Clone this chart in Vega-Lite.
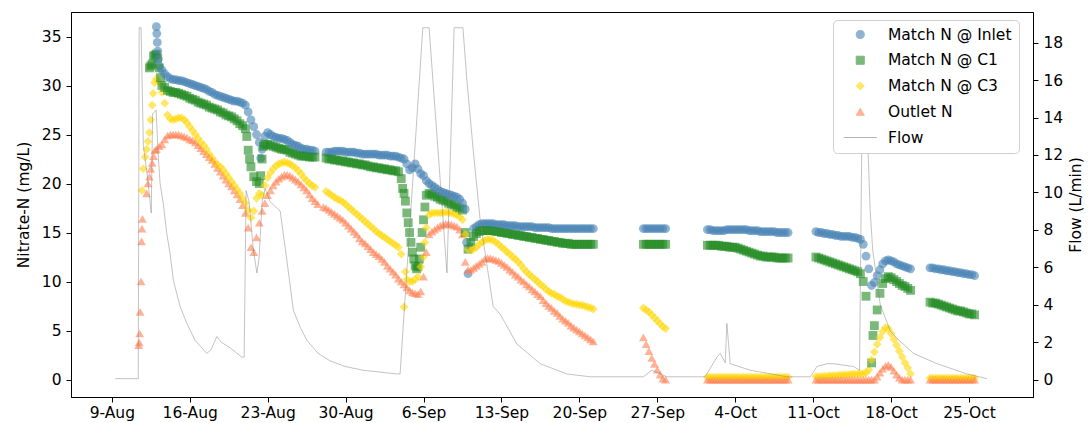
{
"$schema":"https://vega.github.io/schema/vega-lite/v6.json",
"width":962,"height":385,
"autosize":{"type":"none"},
"padding":{"left":71,"top":12,"right":56,"bottom":26},
"background":"white",
"config":{"font":"DejaVu Sans","view":{"stroke":"black","strokeWidth":1},
"axis":{"labelFontSize":15.5,"titleFontSize":15.5,"labelColor":"#000","titleColor":"#000","tickColor":"#000","domainColor":"#000","grid":false,"titleFontWeight":"normal","tickSize":5,"labelPadding":5,"labelFont":"DejaVu Sans","titleFont":"DejaVu Sans"},
"legend":{"title":null,"orient":"none","legendX":762,"legendY":8,"padding":7,"fillColor":"white","strokeColor":"#d0d0d0","cornerRadius":4,"symbolSize":65,"symbolStrokeWidth":1,"symbolOffset":12.5,"clipHeight":15,"rowPadding":9.75,"labelOffset":20,"labelFontSize":15.5,"labelFont":"DejaVu Sans","labelColor":"#000","labelLimit":300}},
"datasets":{
"n":[
{"t":"2019-08-11 10:00","o":3.5},{"t":"2019-08-11 11:00","o":3.8},{"t":"2019-08-11 12:00","o":4.7},{"t":"2019-08-11 13:00","o":6.9},{"t":"2019-08-11 15:00","o":10.0},{"t":"2019-08-11 16:00","o":14.1},{"t":"2019-08-11 17:00","o":15.4,"b":19.3},{"t":"2019-08-11 18:00","o":16.4},{"t":"2019-08-11 20:00","b":21.5},
{"t":"2019-08-12 00:00","b":22.7},{"t":"2019-08-12 03:00","o":19.0,"b":23.5},{"t":"2019-08-12 06:00","o":20.0,"b":24.3},{"t":"2019-08-12 09:00","o":20.7,"b":25.2,"a":31.8},{"t":"2019-08-12 12:00","o":21.5,"b":26.5,"a":32.0},{"t":"2019-08-12 15:00","o":22.1,"b":28.0,"a":32.2},{"t":"2019-08-12 17:00","b":29.2},{"t":"2019-08-12 18:00","o":22.8,"a":33.0},{"t":"2019-08-12 20:00","b":30.3},{"t":"2019-08-12 21:00","o":23.4,"a":33.1},
{"t":"2019-08-13 00:00","i":36.0,"a":33.2,"b":30.7,"o":23.5},{"t":"2019-08-13 01:00","i":35.3},{"t":"2019-08-13 02:00","i":34.4},{"t":"2019-08-13 03:00","i":33.5,"a":32.8},{"t":"2019-08-13 04:00","i":32.7},{"t":"2019-08-13 06:00","i":32.0,"a":31.8,"b":30.3,"o":23.8},{"t":"2019-08-13 09:00","a":30.8},{"t":"2019-08-13 12:00","i":31.6,"a":30.0,"b":29.3,"o":24.0},{"t":"2019-08-13 18:00","i":31.2,"a":29.8,"b":28.2,"o":24.5},
{"t":"2019-08-14 00:00","i":30.9,"a":29.5,"b":27.0,"o":24.9},{"t":"2019-08-14 06:00","i":30.7,"a":29.4,"b":26.6,"o":25.0},{"t":"2019-08-14 12:00","i":30.6,"a":29.3,"b":26.5,"o":25.0},{"t":"2019-08-14 18:00","i":30.6,"a":29.3,"b":26.6,"o":25.0},
{"t":"2019-08-15 00:00","i":30.5,"a":29.2,"b":26.7,"o":25.0},{"t":"2019-08-15 06:00","i":30.5,"a":29.1,"b":26.7,"o":24.9},{"t":"2019-08-15 12:00","i":30.4,"a":29.0,"b":26.5,"o":24.8},{"t":"2019-08-15 18:00","i":30.3,"a":28.9,"b":26.2,"o":24.7},
{"t":"2019-08-16 00:00","i":30.2,"a":28.7,"b":25.8,"o":24.5},{"t":"2019-08-16 06:00","i":30.1,"a":28.6,"b":25.4,"o":24.4},{"t":"2019-08-16 12:00","i":30.0,"a":28.5,"b":25.0,"o":24.2},{"t":"2019-08-16 18:00","i":29.9,"a":28.3,"b":24.6,"o":23.9},
{"t":"2019-08-17 00:00","i":29.8,"a":28.2,"b":24.2,"o":23.6},{"t":"2019-08-17 06:00","i":29.7,"a":28.1,"b":23.9,"o":23.3},{"t":"2019-08-17 12:00","i":29.6,"a":28.0,"b":23.5,"o":23.0},{"t":"2019-08-17 18:00","i":29.4,"a":27.8,"b":23.0,"o":22.7},
{"t":"2019-08-18 00:00","i":29.3,"a":27.7,"b":22.6,"o":22.4},{"t":"2019-08-18 06:00","i":29.1,"a":27.6,"b":22.2,"o":22.0},{"t":"2019-08-18 12:00","i":29.0,"a":27.5,"b":21.9,"o":21.6},{"t":"2019-08-18 18:00","i":28.9,"a":27.3,"b":21.7,"o":21.2},
{"t":"2019-08-19 00:00","i":28.8,"a":27.2,"b":21.4,"o":20.8},{"t":"2019-08-19 06:00","i":28.7,"a":27.0,"b":21.0,"o":20.4},{"t":"2019-08-19 12:00","i":28.6,"a":26.9,"b":20.6,"o":20.0},{"t":"2019-08-19 18:00","i":28.5,"a":26.8,"b":20.2,"o":19.7},
{"t":"2019-08-20 00:00","i":28.4,"a":26.6,"b":19.8,"o":19.3},{"t":"2019-08-20 06:00","i":28.4,"a":26.4,"b":19.4,"o":18.9},{"t":"2019-08-20 12:00","i":28.3,"a":26.1,"b":19.0,"o":18.4},{"t":"2019-08-20 18:00","i":28.2,"a":25.9,"b":18.5,"o":17.8},
{"t":"2019-08-21 00:00","i":28.0,"a":25.6,"b":18.0,"o":17.0},{"t":"2019-08-21 03:00","a":24.8},{"t":"2019-08-21 06:00","i":27.3,"a":23.4,"b":17.3,"o":15.5},{"t":"2019-08-21 09:00","a":22.5},{"t":"2019-08-21 12:00","i":26.5,"a":21.7,"b":16.5,"o":13.5},{"t":"2019-08-21 18:00","i":25.8,"a":20.7,"b":17.2,"o":13.0},
{"t":"2019-08-22 00:00","i":25.0,"a":20.2,"b":18.5,"o":14.5},{"t":"2019-08-22 06:00","i":24.2,"a":20.0,"b":19.0,"o":16.0},{"t":"2019-08-22 09:00","i":22.6,"a":20.8},{"t":"2019-08-22 12:00","i":23.5,"a":22.5,"b":18.8,"o":17.2},{"t":"2019-08-22 15:00","a":23.8},{"t":"2019-08-22 18:00","i":24.8,"a":24.0,"b":19.8,"o":18.0},
{"t":"2019-08-23 00:00","i":25.2,"a":24.0,"b":20.6,"o":18.8},{"t":"2019-08-23 06:00","i":25.0,"a":23.9,"b":21.1,"o":19.3},{"t":"2019-08-23 12:00","i":24.8,"a":23.8,"b":21.5,"o":19.8},{"t":"2019-08-23 18:00","i":24.7,"a":23.7,"b":21.8,"o":20.2},
{"t":"2019-08-24 00:00","i":24.6,"a":23.6,"b":22.0,"o":20.5},{"t":"2019-08-24 06:00","i":24.6,"a":23.5,"b":22.1,"o":20.7},{"t":"2019-08-24 12:00","i":24.5,"a":23.5,"b":22.2,"o":20.9},{"t":"2019-08-24 18:00","i":24.4,"a":23.4,"b":22.1,"o":20.9},
{"t":"2019-08-25 00:00","i":24.2,"a":23.2,"b":22.0,"o":20.8},{"t":"2019-08-25 06:00","i":24.0,"a":23.1,"b":21.8,"o":20.6},{"t":"2019-08-25 12:00","i":23.9,"a":23.0,"b":21.6,"o":20.4},{"t":"2019-08-25 18:00","i":23.8,"a":22.9,"b":21.3,"o":20.2},
{"t":"2019-08-26 00:00","i":23.6,"a":22.8,"b":21.0,"o":19.9},{"t":"2019-08-26 06:00","i":23.5,"a":22.8,"b":20.6,"o":19.6},{"t":"2019-08-26 12:00","i":23.5,"a":22.8,"b":20.3,"o":19.3},{"t":"2019-08-26 18:00","i":23.4,"a":22.7,"b":20.0,"o":18.9},
{"t":"2019-08-27 00:00","i":23.4,"a":22.7,"b":19.8,"o":18.5},{"t":"2019-08-27 06:00","i":23.3,"a":22.7,"b":19.6,"o":18.2},{"t":"2019-08-27 12:00","o":17.9},
{"t":"2019-08-28 00:00","o":17.6},{"t":"2019-08-28 06:00","i":23.2,"a":22.6,"b":19.2,"o":17.5},{"t":"2019-08-28 12:00","i":23.2,"a":22.5,"b":19.0,"o":17.3},{"t":"2019-08-28 18:00","i":23.2,"a":22.5,"b":18.8,"o":17.1},
{"t":"2019-08-29 00:00","i":23.3,"a":22.4,"b":18.6,"o":16.9},{"t":"2019-08-29 06:00","i":23.3,"a":22.4,"b":18.4,"o":16.7},{"t":"2019-08-29 12:00","i":23.3,"a":22.3,"b":18.3,"o":16.5},{"t":"2019-08-29 18:00","i":23.3,"a":22.3,"b":18.1,"o":16.3},
{"t":"2019-08-30 00:00","i":23.2,"a":22.2,"b":17.9,"o":16.0},{"t":"2019-08-30 06:00","i":23.2,"a":22.2,"b":17.6,"o":15.7},{"t":"2019-08-30 12:00","i":23.2,"a":22.1,"b":17.4,"o":15.4},{"t":"2019-08-30 18:00","i":23.2,"a":22.1,"b":17.1,"o":15.1},
{"t":"2019-08-31 00:00","i":23.1,"a":22.0,"b":16.9,"o":14.8},{"t":"2019-08-31 06:00","i":23.1,"a":22.0,"b":16.6,"o":14.4},{"t":"2019-08-31 12:00","i":23.0,"a":21.9,"b":16.4,"o":14.1},{"t":"2019-08-31 18:00","i":23.0,"a":21.9,"b":16.1,"o":13.9},
{"t":"2019-09-01 00:00","i":23.0,"a":21.8,"b":15.9,"o":13.6},{"t":"2019-09-01 06:00","i":23.0,"a":21.7,"b":15.6,"o":13.3},{"t":"2019-09-01 12:00","i":23.0,"a":21.7,"b":15.4,"o":13.0},{"t":"2019-09-01 18:00","i":23.0,"a":21.6,"b":15.1,"o":12.8},
{"t":"2019-09-02 00:00","i":22.9,"a":21.6,"b":14.9,"o":12.6},{"t":"2019-09-02 06:00","i":22.9,"a":21.5,"b":14.7,"o":12.3},{"t":"2019-09-02 12:00","i":22.9,"a":21.5,"b":14.5,"o":12.0},{"t":"2019-09-02 18:00","i":22.9,"a":21.4,"b":14.3,"o":11.6},
{"t":"2019-09-03 00:00","i":22.8,"a":21.4,"b":14.1,"o":11.3},{"t":"2019-09-03 06:00","i":22.8,"a":21.3,"b":13.9,"o":11.0},{"t":"2019-09-03 12:00","i":22.8,"a":21.3,"b":13.7,"o":10.7},{"t":"2019-09-03 18:00","i":22.7,"a":21.2,"b":13.5,"o":10.3},
{"t":"2019-09-04 00:00","i":22.6,"a":20.5,"b":12.8,"o":10.0},{"t":"2019-09-04 03:00","a":19.5},{"t":"2019-09-04 06:00","i":22.5,"a":19.0,"b":7.4,"o":9.7},{"t":"2019-09-04 09:00","a":18.2,"b":11.0},{"t":"2019-09-04 12:00","i":22.0,"a":17.0,"b":10.2,"o":9.4},{"t":"2019-09-04 15:00","a":16.0},{"t":"2019-09-04 18:00","i":21.4,"a":15.0,"b":10.0,"o":9.1},{"t":"2019-09-04 21:00","a":14.0},
{"t":"2019-09-05 00:00","i":21.6,"a":13.0,"b":10.0,"o":8.9},{"t":"2019-09-05 03:00","a":12.3},{"t":"2019-09-05 06:00","i":22.0,"a":11.6,"b":10.2,"o":8.8},{"t":"2019-09-05 09:00","a":11.3},{"t":"2019-09-05 12:00","i":21.5,"a":11.5,"b":10.5,"o":8.7},{"t":"2019-09-05 15:00","a":12.3},{"t":"2019-09-05 18:00","i":21.0,"a":13.5,"b":11.5,"o":9.0},{"t":"2019-09-05 21:00","a":15.0},
{"t":"2019-09-06 00:00","i":20.8,"a":16.3,"b":12.5,"o":10.5},{"t":"2019-09-06 03:00","a":17.6,"b":14.0},{"t":"2019-09-06 06:00","i":20.3,"a":18.8,"b":15.5,"o":13.0},{"t":"2019-09-06 12:00","i":20.0,"a":19.0,"b":16.8,"o":14.8},{"t":"2019-09-06 18:00","i":19.8,"a":18.9,"b":17.0,"o":15.1},
{"t":"2019-09-07 00:00","i":19.6,"a":18.7,"b":17.0,"o":15.3},{"t":"2019-09-07 06:00","i":19.4,"a":18.6,"b":17.0,"o":15.5},{"t":"2019-09-07 12:00","i":19.2,"a":18.4,"b":17.0,"o":15.7},{"t":"2019-09-07 18:00","i":19.1,"a":18.3,"b":17.0,"o":15.8},
{"t":"2019-09-08 00:00","i":19.0,"a":18.2,"b":17.1,"o":15.9},{"t":"2019-09-08 06:00","i":18.9,"a":18.0,"b":17.0,"o":15.9},{"t":"2019-09-08 12:00","i":18.8,"a":17.9,"b":17.0,"o":15.8},{"t":"2019-09-08 18:00","i":18.7,"a":17.8,"b":16.9,"o":15.7},
{"t":"2019-09-09 00:00","i":18.6,"a":17.6,"b":16.8,"o":15.6},{"t":"2019-09-09 06:00","i":18.4,"a":17.5,"b":16.6,"o":15.3},{"t":"2019-09-09 12:00","i":18.0,"a":17.3,"b":16.3,"o":14.8},{"t":"2019-09-09 18:00","i":17.4,"a":15.0,"b":14.8,"o":12.0},{"t":"2019-09-09 21:00","i":14.0},
{"t":"2019-09-10 00:00","i":10.8,"a":13.3,"b":13.3,"o":11.2},{"t":"2019-09-10 06:00","i":13.5,"a":14.0,"b":13.2,"o":11.2},{"t":"2019-09-10 12:00","i":15.4,"a":14.6,"b":13.3,"o":11.4},{"t":"2019-09-10 18:00","i":15.6,"a":14.9,"b":13.5,"o":11.6},
{"t":"2019-09-11 00:00","i":15.8,"a":15.1,"b":13.8,"o":11.8},{"t":"2019-09-11 06:00","i":15.9,"a":15.2,"b":14.0,"o":12.0},{"t":"2019-09-11 12:00","i":15.9,"a":15.2,"b":14.2,"o":12.3},{"t":"2019-09-11 18:00","i":15.9,"a":15.2,"b":14.3,"o":12.4},
{"t":"2019-09-12 00:00","i":15.9,"a":15.2,"b":14.3,"o":12.4},{"t":"2019-09-12 06:00","i":15.9,"a":15.2,"b":14.2,"o":12.3},{"t":"2019-09-12 12:00","i":15.8,"a":15.1,"b":14.0,"o":12.2},{"t":"2019-09-12 18:00","i":15.8,"a":15.1,"b":13.8,"o":12.1},
{"t":"2019-09-13 00:00","i":15.8,"a":15.0,"b":13.5,"o":11.9},{"t":"2019-09-13 06:00","i":15.8,"a":15.0,"b":13.3,"o":11.7},{"t":"2019-09-13 12:00","i":15.7,"a":14.9,"b":13.0,"o":11.5},{"t":"2019-09-13 18:00","i":15.7,"a":14.9,"b":12.8,"o":11.2},
{"t":"2019-09-14 00:00","i":15.7,"a":14.8,"b":12.5,"o":11.0},{"t":"2019-09-14 06:00","i":15.7,"a":14.8,"b":12.3,"o":10.7},{"t":"2019-09-14 12:00","i":15.6,"a":14.7,"b":12.0,"o":10.5},{"t":"2019-09-14 18:00","i":15.6,"a":14.7,"b":11.7,"o":10.2},
{"t":"2019-09-15 00:00","i":15.6,"a":14.6,"b":11.3,"o":10.0},{"t":"2019-09-15 06:00","i":15.6,"a":14.6,"b":11.0,"o":9.7},{"t":"2019-09-15 12:00","i":15.6,"a":14.5,"b":10.7,"o":9.5},{"t":"2019-09-15 18:00","i":15.6,"a":14.5,"b":10.5,"o":9.2},
{"t":"2019-09-16 00:00","i":15.5,"a":14.4,"b":10.2,"o":9.0},{"t":"2019-09-16 06:00","i":15.5,"a":14.4,"b":10.0,"o":8.7},{"t":"2019-09-16 12:00","i":15.5,"a":14.3,"b":9.7,"o":8.5},{"t":"2019-09-16 18:00","i":15.5,"a":14.3,"b":9.5,"o":8.1},
{"t":"2019-09-17 00:00","i":15.5,"a":14.2,"b":9.2,"o":7.8},{"t":"2019-09-17 06:00","i":15.5,"a":14.2,"b":9.0,"o":7.5},{"t":"2019-09-17 12:00","i":15.4,"a":14.1,"b":8.8,"o":7.3},{"t":"2019-09-17 18:00","i":15.4,"a":14.1,"b":8.7,"o":7.0},
{"t":"2019-09-18 00:00","i":15.4,"a":14.0,"b":8.5,"o":6.8},{"t":"2019-09-18 06:00","i":15.4,"a":14.0,"b":8.4,"o":6.5},{"t":"2019-09-18 12:00","i":15.4,"a":13.9,"b":8.2,"o":6.2},{"t":"2019-09-18 18:00","i":15.4,"a":13.9,"b":8.0,"o":6.0},
{"t":"2019-09-19 00:00","i":15.4,"a":13.9,"b":7.9,"o":5.8},{"t":"2019-09-19 06:00","i":15.4,"a":13.8,"b":7.8,"o":5.5},{"t":"2019-09-19 12:00","i":15.4,"a":13.8,"b":7.7,"o":5.3},{"t":"2019-09-19 18:00","i":15.4,"a":13.8,"b":7.7,"o":5.1},
{"t":"2019-09-20 00:00","i":15.4,"a":13.8,"b":7.6,"o":4.9},{"t":"2019-09-20 06:00","i":15.4,"a":13.8,"b":7.6,"o":4.7},{"t":"2019-09-20 12:00","i":15.4,"a":13.8,"b":7.5,"o":4.5},{"t":"2019-09-20 18:00","i":15.4,"a":13.8,"b":7.4,"o":4.3},
{"t":"2019-09-21 00:00","i":15.4,"a":13.8,"b":7.3,"o":4.1},{"t":"2019-09-21 06:00","i":15.4,"a":13.8,"b":7.2,"o":3.9},
{"t":"2019-09-25 18:00","i":15.4,"a":13.8,"b":7.3,"o":4.3},{"t":"2019-09-26 00:00","i":15.4,"a":13.8,"b":7.1,"o":3.6},{"t":"2019-09-26 06:00","i":15.4,"a":13.8,"b":6.9,"o":2.9},{"t":"2019-09-26 12:00","i":15.4,"a":13.8,"b":6.6,"o":2.2},{"t":"2019-09-26 18:00","i":15.4,"a":13.8,"b":6.3,"o":1.6},{"t":"2019-09-27 00:00","i":15.4,"a":13.8,"b":6.0,"o":1.0},{"t":"2019-09-27 06:00","i":15.4,"a":13.8,"b":5.7,"o":0.5},{"t":"2019-09-27 12:00","i":15.4,"a":13.8,"b":5.4,"o":0.1},{"t":"2019-09-27 18:00","i":15.4,"a":13.8,"b":5.2,"o":0.0},
{"t":"2019-10-01 12:00","i":15.3,"a":13.7,"b":0.25,"o":0},{"t":"2019-10-01 18:00","i":15.3,"a":13.7,"b":0.25,"o":0},
{"t":"2019-10-02 00:00","i":15.2,"a":13.7,"b":0.25,"o":0},{"t":"2019-10-02 06:00","i":15.2,"a":13.7,"b":0.25,"o":0},{"t":"2019-10-02 12:00","i":15.2,"a":13.7,"b":0.25,"o":0},{"t":"2019-10-02 18:00","i":15.2,"a":13.6,"b":0.25,"o":0},
{"t":"2019-10-03 00:00","i":15.2,"a":13.6,"b":0.25,"o":0},{"t":"2019-10-03 06:00","i":15.3,"a":13.6,"b":0.25,"o":0},{"t":"2019-10-03 12:00","i":15.3,"a":13.5,"b":0.25,"o":0},{"t":"2019-10-03 18:00","i":15.3,"a":13.5,"b":0.25,"o":0},
{"t":"2019-10-04 00:00","i":15.3,"a":13.5,"b":0.25,"o":0},{"t":"2019-10-04 06:00","i":15.3,"a":13.4,"b":0.25,"o":0},{"t":"2019-10-04 12:00","i":15.3,"a":13.3,"b":0.25,"o":0},{"t":"2019-10-04 18:00","i":15.3,"a":13.2,"b":0.25,"o":0},
{"t":"2019-10-05 00:00","i":15.3,"a":13.1,"b":0.25,"o":0},{"t":"2019-10-05 06:00","i":15.2,"a":13.0,"b":0.25,"o":0},{"t":"2019-10-05 12:00","i":15.2,"a":12.9,"b":0.25,"o":0},{"t":"2019-10-05 18:00","i":15.2,"a":12.8,"b":0.25,"o":0},
{"t":"2019-10-06 00:00","i":15.2,"a":12.7,"b":0.25,"o":0},{"t":"2019-10-06 06:00","i":15.1,"a":12.6,"b":0.25,"o":0},{"t":"2019-10-06 12:00","i":15.1,"a":12.6,"b":0.25,"o":0},{"t":"2019-10-06 18:00","i":15.1,"a":12.5,"b":0.25,"o":0},
{"t":"2019-10-07 00:00","i":15.1,"a":12.5,"b":0.25,"o":0},{"t":"2019-10-07 06:00","i":15.1,"a":12.5,"b":0.25,"o":0},{"t":"2019-10-07 12:00","i":15.1,"a":12.5,"b":0.25,"o":0},{"t":"2019-10-07 18:00","i":15.0,"a":12.4,"b":0.25,"o":0},
{"t":"2019-10-08 00:00","i":15.0,"a":12.4,"b":0.25,"o":0},{"t":"2019-10-08 06:00","i":15.0,"a":12.4,"b":0.25,"o":0},{"t":"2019-10-08 12:00","i":15.0,"a":12.4,"b":0.25,"o":0},{"t":"2019-10-08 18:00","i":15.0,"a":12.4,"b":0.25,"o":0},
{"t":"2019-10-11 06:00","i":15.1,"a":12.5,"b":0.3,"o":0},{"t":"2019-10-11 12:00","i":15.0,"a":12.4,"b":0.3,"o":0},{"t":"2019-10-11 18:00","i":15.0,"a":12.3,"b":0.3,"o":0},
{"t":"2019-10-12 00:00","i":14.9,"a":12.2,"b":0.35,"o":0},{"t":"2019-10-12 06:00","i":14.9,"a":12.1,"b":0.35,"o":0},{"t":"2019-10-12 12:00","i":14.8,"a":12.0,"b":0.4,"o":0},{"t":"2019-10-12 18:00","i":14.8,"a":11.9,"b":0.4,"o":0},
{"t":"2019-10-13 00:00","i":14.7,"a":11.8,"b":0.4,"o":0},{"t":"2019-10-13 06:00","i":14.7,"a":11.7,"b":0.45,"o":0},{"t":"2019-10-13 12:00","i":14.6,"a":11.6,"b":0.45,"o":0},{"t":"2019-10-13 18:00","i":14.6,"a":11.5,"b":0.5,"o":0},
{"t":"2019-10-14 00:00","i":14.6,"a":11.4,"b":0.5,"o":0},{"t":"2019-10-14 06:00","i":14.6,"a":11.3,"b":0.5,"o":0},{"t":"2019-10-14 12:00","i":14.5,"a":11.2,"b":0.55,"o":0},{"t":"2019-10-14 18:00","i":14.5,"a":11.1,"b":0.55,"o":0},
{"t":"2019-10-15 00:00","i":14.4,"a":11.0,"b":0.55,"o":0},{"t":"2019-10-15 06:00","i":14.3,"a":10.8,"b":0.6,"o":0},{"t":"2019-10-15 12:00","i":13.8,"a":10.0,"b":0.6,"o":0},{"t":"2019-10-15 18:00","i":12.6,"a":8.5,"b":0.7,"o":0},
{"t":"2019-10-16 00:00","i":11.3,"b":1.0,"o":0},{"t":"2019-10-16 06:00","i":9.6,"a":1.7,"b":2.0,"o":0},{"t":"2019-10-16 09:00","a":4.5},{"t":"2019-10-16 12:00","i":9.9,"a":5.5,"b":2.8,"o":0.0},{"t":"2019-10-16 18:00","i":10.6,"a":7.1,"b":3.6,"o":0.3},
{"t":"2019-10-17 00:00","i":11.2,"a":8.8,"b":4.3,"o":0.7},{"t":"2019-10-17 06:00","i":11.8,"a":9.8,"b":4.9,"o":1.1},{"t":"2019-10-17 12:00","i":12.1,"a":10.3,"b":5.3,"o":1.4},{"t":"2019-10-17 18:00","i":12.2,"a":10.5,"b":5.2,"o":1.5},
{"t":"2019-10-18 00:00","i":12.1,"a":10.4,"b":4.7,"o":1.3},{"t":"2019-10-18 06:00","i":12.0,"a":10.2,"b":4.1,"o":0.9},{"t":"2019-10-18 12:00","i":11.8,"a":10.0,"b":3.5,"o":0.5},{"t":"2019-10-18 18:00","i":11.7,"a":9.8,"b":2.9,"o":0.2},
{"t":"2019-10-19 00:00","i":11.6,"a":9.6,"b":2.3,"o":0.0},{"t":"2019-10-19 06:00","i":11.5,"a":9.5,"b":1.7,"o":0.0},{"t":"2019-10-19 12:00","i":11.4,"a":9.3,"b":1.2,"o":0.0},{"t":"2019-10-19 18:00","i":11.3,"a":9.1,"b":0.6,"o":0.0},
{"t":"2019-10-21 12:00","i":11.4,"a":7.9,"b":0.15,"o":0},{"t":"2019-10-21 18:00","i":11.4,"a":7.8,"b":0.15,"o":0},
{"t":"2019-10-22 00:00","i":11.3,"a":7.8,"b":0.15,"o":0},{"t":"2019-10-22 06:00","i":11.3,"a":7.7,"b":0.15,"o":0},{"t":"2019-10-22 12:00","i":11.2,"a":7.6,"b":0.15,"o":0},{"t":"2019-10-22 18:00","i":11.2,"a":7.5,"b":0.15,"o":0},
{"t":"2019-10-23 00:00","i":11.1,"a":7.4,"b":0.15,"o":0},{"t":"2019-10-23 06:00","i":11.1,"a":7.3,"b":0.15,"o":0},{"t":"2019-10-23 12:00","i":11.0,"a":7.2,"b":0.15,"o":0},{"t":"2019-10-23 18:00","i":11.0,"a":7.1,"b":0.15,"o":0},
{"t":"2019-10-24 00:00","i":10.9,"a":7.0,"b":0.15,"o":0},{"t":"2019-10-24 06:00","i":10.9,"a":7.0,"b":0.15,"o":0},{"t":"2019-10-24 12:00","i":10.8,"a":6.9,"b":0.15,"o":0},{"t":"2019-10-24 18:00","i":10.8,"a":6.8,"b":0.15,"o":0},
{"t":"2019-10-25 00:00","i":10.7,"a":6.7,"b":0.15,"o":0},{"t":"2019-10-25 06:00","i":10.7,"a":6.7,"b":0.15,"o":0},{"t":"2019-10-25 12:00","i":10.6,"a":6.6,"b":0.15,"o":0}
],
"flow":[
{"t":"2019-08-09 07:00","f":0.05},{"t":"2019-08-11 09:00","f":0.05},{"t":"2019-08-11 11:00","f":18.8},{"t":"2019-08-11 15:00","f":18.8},{"t":"2019-08-11 20:00","f":12.5},{"t":"2019-08-12 04:00","f":11.0},{"t":"2019-08-12 13:00","f":8.9},{"t":"2019-08-12 16:00","f":14.2},{"t":"2019-08-12 23:30","f":14.4},{"t":"2019-08-13 04:00","f":12.0},{"t":"2019-08-13 08:00","f":10.5},{"t":"2019-08-13 15:00","f":9.4},{"t":"2019-08-13 22:30","f":7.8},{"t":"2019-08-14 05:45","f":6.7},{"t":"2019-08-14 12:45","f":5.3},{"t":"2019-08-15 03:15","f":3.9},{"t":"2019-08-15 17:45","f":3.0},{"t":"2019-08-16 11:30","f":2.1},{"t":"2019-08-17 12:45","f":1.4},{"t":"2019-08-17 22:00","f":1.6},{"t":"2019-08-18 10:30","f":2.3},{"t":"2019-08-18 19:45","f":2.0},{"t":"2019-08-19 15:00","f":1.7},{"t":"2019-08-20 16:15","f":1.2},{"t":"2019-08-20 21:15","f":1.2},{"t":"2019-08-21 01:30","f":10.1},{"t":"2019-08-21 08:00","f":9.5},{"t":"2019-08-21 16:45","f":7.0},{"t":"2019-08-22 00:45","f":5.7},{"t":"2019-08-22 05:30","f":6.5},{"t":"2019-08-22 12:00","f":9.5},{"t":"2019-08-22 18:30","f":10.2},{"t":"2019-08-23 05:15","f":9.5},{"t":"2019-08-24 03:00","f":9.0},{"t":"2019-08-24 17:15","f":6.4},{"t":"2019-08-25 07:30","f":3.7},{"t":"2019-08-25 22:00","f":2.8},{"t":"2019-08-26 12:30","f":2.1},{"t":"2019-08-27 12:45","f":1.4},{"t":"2019-08-28 14:45","f":1.0},{"t":"2019-08-29 23:00","f":0.7},{"t":"2019-08-31 14:00","f":0.5},{"t":"2019-09-02 02:30","f":0.4},{"t":"2019-09-03 14:30","f":0.3},{"t":"2019-09-03 21:30","f":0.3},{"t":"2019-09-05 22:30","f":18.8},{"t":"2019-09-06 12:00","f":18.8},{"t":"2019-09-08 02:30","f":5.7},{"t":"2019-09-08 18:00","f":18.8},{"t":"2019-09-09 13:00","f":18.8},{"t":"2019-09-09 21:30","f":16.0},{"t":"2019-09-10 11:45","f":12.1},{"t":"2019-09-11 02:15","f":8.5},{"t":"2019-09-12 06:15","f":3.9},{"t":"2019-09-12 21:15","f":3.5},{"t":"2019-09-14 09:15","f":1.9},{"t":"2019-09-16 11:30","f":0.85},{"t":"2019-09-18 21:00","f":0.3},{"t":"2019-09-20 23:30","f":0.15},{"t":"2019-09-25 17:45","f":0.15},{"t":"2019-09-26 12:30","f":0.5},{"t":"2019-09-27 20:45","f":0.15},{"t":"2019-10-01 07:15","f":0.15},{"t":"2019-10-02 08:30","f":1.2},{"t":"2019-10-02 15:45","f":1.4},{"t":"2019-10-03 02:30","f":0.9},{"t":"2019-10-03 06:00","f":3.0},{"t":"2019-10-03 13:15","f":0.85},{"t":"2019-10-05 08:30","f":0.5},{"t":"2019-10-08 15:30","f":0.15},{"t":"2019-10-10 17:45","f":0.15},{"t":"2019-10-11 08:15","f":0.7},{"t":"2019-10-12 05:45","f":0.85},{"t":"2019-10-12 19:15","f":0.85},{"t":"2019-10-14 15:00","f":0.7},{"t":"2019-10-15 04:00","f":0.5},{"t":"2019-10-15 11:00","f":17.9},{"t":"2019-10-15 14:00","f":17.9},{"t":"2019-10-15 22:00","f":12.5},{"t":"2019-10-16 03:00","f":9.0},{"t":"2019-10-16 08:30","f":6.9},{"t":"2019-10-17 00:45","f":4.0},{"t":"2019-10-17 22:15","f":2.6},{"t":"2019-10-18 12:45","f":2.2},{"t":"2019-10-20 00:30","f":1.4},{"t":"2019-10-22 03:00","f":0.85},{"t":"2019-10-24 19:45","f":0.3},{"t":"2019-10-26 14:45","f":0.05}
]},
"layer":[
{"data":{"name":"n"},
"transform":[{"fold":["i","a","b","o"],"as":["s","v"]},{"filter":"datum.v != null"}],
"mark":{"type":"point","filled":true,"opacity":0.6,"size":78},
"encoding":{
"x":{"field":"t","type":"temporal","scale":{"domain":[{"year":2019,"month":"aug","date":5,"hours":8},{"year":2019,"month":"oct","date":30,"hours":18}]},
"axis":{"title":null,"format":"%-d-%b","labelPadding":3,"values":[{"year":2019,"month":"aug","date":9},{"year":2019,"month":"aug","date":16},{"year":2019,"month":"aug","date":23},{"year":2019,"month":"aug","date":30},{"year":2019,"month":"sep","date":6},{"year":2019,"month":"sep","date":13},{"year":2019,"month":"sep","date":20},{"year":2019,"month":"sep","date":27},{"year":2019,"month":"oct","date":4},{"year":2019,"month":"oct","date":11},{"year":2019,"month":"oct","date":18},{"year":2019,"month":"oct","date":25}]}},
"y":{"field":"v","type":"quantitative","scale":{"domain":[-1.78,37.5],"nice":false,"zero":false},"axis":{"title":"Nitrate-N (mg/L)","orient":"left","values":[0,5,10,15,20,25,30,35],"titlePadding":10}},
"color":{"field":"s","type":"nominal","scale":{"domain":["i","a","b","o","f"],"range":["#4682b4","#228b22","#ffd700","#ff7f50","#808080"]},
"legend":{"labelExpr":"datum.label == 'i' ? 'Match N @ Inlet' : datum.label == 'a' ? 'Match N @ C1' : datum.label == 'b' ? 'Match N @ C3' : datum.label == 'o' ? 'Outlet N' : 'Flow'"}},
"shape":{"field":"s","type":"nominal","scale":{"domain":["i","a","b","o","f"],"range":["circle","square","diamond","triangle-up","M-4.1,0L4.1,0"]},
"legend":{"labelExpr":"datum.label == 'i' ? 'Match N @ Inlet' : datum.label == 'a' ? 'Match N @ C1' : datum.label == 'b' ? 'Match N @ C3' : datum.label == 'o' ? 'Outlet N' : 'Flow'"}}
}},
{"data":{"name":"flow"},
"mark":{"type":"line","strokeWidth":0.8,"opacity":0.6},
"encoding":{
"x":{"field":"t","type":"temporal"},
"y":{"field":"f","type":"quantitative","scale":{"domain":[-0.93,19.64],"nice":false,"zero":false},"axis":{"title":"Flow (L/min)","orient":"right","values":[0,2,4,6,8,10,12,14,16,18],"titleAngle":-90,"titleBaseline":"top","titlePadding":6}},
"color":{"datum":"f"}
}}
],
"resolve":{"scale":{"y":"independent"}}
}
